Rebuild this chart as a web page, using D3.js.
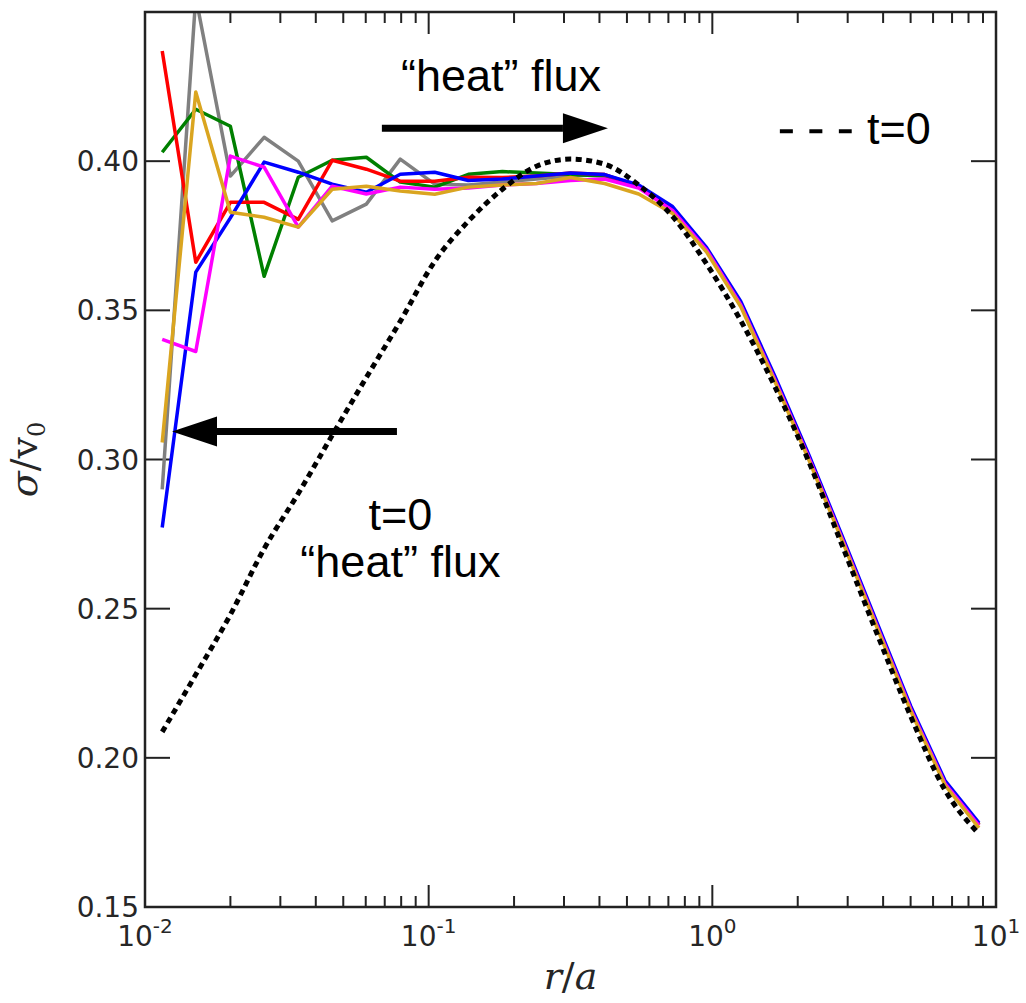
<!DOCTYPE html>
<html>
<head>
<meta charset="utf-8">
<script src="https://cdn.jsdelivr.net/npm/d3@7"></script>
<style>
  body { margin: 0; background: #fff; }
  .tick-label { font-family: "DejaVu Sans", sans-serif; font-size: 28px; fill: #262626; }
  .note { font-family: "Liberation Sans", Arial, sans-serif; font-size: 45px; fill: #000; }
  .axis-title { font-family: "DejaVu Serif", serif; font-size: 38px; fill: #262626; }
</style>
</head>
<body>
<div id="chart"></div>
<script>
// radius bins r/a
var rValues = [0.0115, 0.0151, 0.0200, 0.0263, 0.0347, 0.0457, 0.0603, 0.0794, 0.105, 0.138,
  0.182, 0.240, 0.316, 0.417, 0.550, 0.724, 0.955, 1.26, 1.66, 2.19, 2.88, 3.80, 5.01, 6.61, 8.71]

// sigma / v0 for each run
var sigmaGray = [0.290, 0.455, 0.395, 0.408, 0.400, 0.380, 0.3856, 0.4007, 0.3923, 0.392, 0.393, 0.394, 0.395,
  0.3955, 0.3915, 0.3845, 0.3705, 0.352, 0.327, 0.3005, 0.273, 0.2445, 0.2163, 0.1915, 0.1775]
var sigmaGreen = [0.403, 0.4174, 0.4117, 0.3614, 0.3946, 0.4003, 0.4013, 0.393, 0.3913, 0.3956, 0.3965, 0.396, 0.3955,
  0.395, 0.3915, 0.384, 0.3705, 0.352, 0.327, 0.3007, 0.2732, 0.2447, 0.2165, 0.1918, 0.1777]
var sigmaRed = [0.4369, 0.3661, 0.3862, 0.3862, 0.3805, 0.4003, 0.3973, 0.3933, 0.3933, 0.3946, 0.3945, 0.395, 0.396,
  0.3955, 0.3915, 0.384, 0.3705, 0.352, 0.327, 0.3007, 0.2732, 0.2446, 0.2164, 0.1916, 0.1775]
var sigmaBlue = [0.2772, 0.3628, 0.381, 0.3997, 0.3963, 0.3923, 0.3896, 0.3956, 0.3963, 0.3935, 0.394, 0.395, 0.396,
  0.3955, 0.392, 0.3848, 0.371, 0.353, 0.328, 0.3015, 0.274, 0.2455, 0.2172, 0.1924, 0.1782]
var sigmaMagenta = [0.3403, 0.3362, 0.4017, 0.398, 0.3779, 0.3916, 0.389, 0.3913, 0.3906, 0.391, 0.392, 0.3925, 0.3935,
  0.394, 0.391, 0.3835, 0.3702, 0.3518, 0.3268, 0.3005, 0.273, 0.2444, 0.2162, 0.1914, 0.1773]
var sigmaOrange = [0.3057, 0.4232, 0.3829, 0.3812, 0.3779, 0.3906, 0.3916, 0.390, 0.3889, 0.3913, 0.392, 0.3925, 0.3945,
  0.3925, 0.389, 0.3825, 0.3695, 0.3512, 0.3262, 0.2998, 0.2724, 0.2438, 0.2156, 0.1908, 0.1765]

// t=0 profile
var sigmaInitial = [0.2087, 0.2279, 0.248, 0.2701, 0.2886, 0.3081, 0.3275, 0.3463, 0.3664, 0.3799, 0.3906, 0.3983, 0.4007,
  0.399, 0.392, 0.3815, 0.3655, 0.3465, 0.3245, 0.2992, 0.2708, 0.2418, 0.2138, 0.1892, 0.1745]

var seriesNames = ["gray", "green", "red", "blue", "magenta", "orange"]
var seriesColors = ["#808080", "#008000", "#ff0000", "#0000ff", "#ff00ff", "#daa520"]
var seriesValues = [sigmaGray, sigmaGreen, sigmaRed, sigmaBlue, sigmaMagenta, sigmaOrange]

var yTicks = [0.15, 0.20, 0.25, 0.30, 0.35, 0.40, 0.45]
var xMajorTicks = [0.01, 0.1, 1, 10]
var xExponents = ["-2", "-1", "0", "1"]

ProfilePlot = function (_parentElement) {
  this.parentElement = _parentElement
  this.initVis()
}

ProfilePlot.prototype.initVis = function () {
  var vis = this

  vis.margin = { top: 12, right: 30, bottom: 96, left: 145 }
  vis.width = 1026 - vis.margin.left - vis.margin.right
  vis.height = 1003 - vis.margin.top - vis.margin.bottom

  vis.svg = d3
    .select("#" + vis.parentElement)
    .append("svg")
    .attr("width", 1026)
    .attr("height", 1003)
    .append("g")
    .attr("transform", "translate(" + vis.margin.left + "," + vis.margin.top + ")")

  vis.x = d3.scaleLog().domain([0.01, 10]).range([0, vis.width])
  vis.y = d3.scaleLinear().domain([0.15, 0.45]).range([vis.height, 0])

  vis.svg
    .append("clipPath")
    .attr("id", "plot-clip")
    .append("rect")
    .attr("width", vis.width)
    .attr("height", vis.height)

  vis.wrangleData()
}

ProfilePlot.prototype.wrangleData = function () {
  var vis = this

  vis.displayData = seriesNames.map((name, i) => ({
    name: name,
    color: seriesColors[i],
    values: rValues.map((r, j) => ({ r: r, s: seriesValues[i][j] })),
  }))
  vis.initialData = rValues.map((r, j) => ({ r: r, s: sigmaInitial[j] }))

  vis.updateVis()
}

ProfilePlot.prototype.updateVis = function () {
  var vis = this
  var x = vis.x
  var y = vis.y

  // minor ticks of the log axis
  var minorTicks = x.ticks().filter((t) => xMajorTicks.indexOf(t) < 0)

  var ticks = vis.svg.append("g").attr("stroke", "#222").attr("stroke-width", 2)

  xMajorTicks.forEach((t) => {
    ticks.append("line").attr("x1", x(t)).attr("x2", x(t)).attr("y1", vis.height).attr("y2", vis.height - 22)
    ticks.append("line").attr("x1", x(t)).attr("x2", x(t)).attr("y1", 0).attr("y2", 22)
  })
  minorTicks.forEach((t) => {
    ticks.append("line").attr("x1", x(t)).attr("x2", x(t)).attr("y1", vis.height).attr("y2", vis.height - 11)
    ticks.append("line").attr("x1", x(t)).attr("x2", x(t)).attr("y1", 0).attr("y2", 11)
  })
  yTicks.forEach((t) => {
    ticks.append("line").attr("x1", 0).attr("x2", 25).attr("y1", y(t)).attr("y2", y(t))
    ticks.append("line").attr("x1", vis.width).attr("x2", vis.width - 25).attr("y1", y(t)).attr("y2", y(t))
  })

  // tick labels
  vis.svg
    .selectAll(".y-label")
    .data(yTicks.slice(0, 6))
    .enter()
    .append("text")
    .attr("class", "tick-label")
    .attr("x", -6)
    .attr("y", (d) => y(d))
    .attr("dy", "0.36em")
    .attr("text-anchor", "end")
    .text((d) => d3.format(".2f")(d))

  var xl = vis.svg
    .selectAll(".x-label")
    .data(xMajorTicks)
    .enter()
    .append("text")
    .attr("class", "tick-label")
    .attr("x", (d) => x(d))
    .attr("y", vis.height + 39)
    .attr("text-anchor", "middle")
  xl.append("tspan").text("10")
  xl.append("tspan")
    .attr("dy", -13)
    .attr("font-size", 20)
    .text((d, i) => xExponents[i])

  // series
  var line = d3
    .line()
    .x((d) => x(d.r))
    .y((d) => y(d.s))

  var plot = vis.svg.append("g").attr("clip-path", "url(#plot-clip)")

  plot
    .selectAll(".run")
    .data(vis.displayData)
    .enter()
    .append("path")
    .attr("class", "run")
    .attr("fill", "none")
    .attr("stroke", (d) => d.color)
    .attr("stroke-width", 3.5)
    .attr("stroke-linejoin", "round")
    .attr("d", (d) => line(d.values))

  plot
    .append("path")
    .attr("fill", "none")
    .attr("stroke", "#000")
    .attr("stroke-width", 5)
    .attr("stroke-dasharray", "6,4.5")
    .attr("d", line.curve(d3.curveMonotoneX)(vis.initialData))

  // frame
  vis.svg
    .append("rect")
    .attr("width", vis.width)
    .attr("height", vis.height)
    .attr("fill", "none")
    .attr("stroke", "#222")
    .attr("stroke-width", 2.5)

  // annotations (data coordinates)
  var notes = vis.svg.append("g")

  var arrow = function (r0, r1, s, dir) {
    var x0 = x(r0), x1 = x(r1), yy = y(s)
    var base = x1 - dir * 45
    notes.append("line").attr("x1", x0).attr("x2", base).attr("y1", yy).attr("y2", yy)
      .attr("stroke", "#000").attr("stroke-width", 7)
    notes.append("path")
      .attr("d", "M" + x1 + "," + yy + "L" + base + "," + (yy - 15) + "L" + base + "," + (yy + 15) + "Z")
      .attr("fill", "#000")
  }
  arrow(0.0684, 0.4285, 0.411, 1)
  arrow(0.0773, 0.01245, 0.3094, -1)

  notes.append("text").attr("class", "note").attr("x", x(0.18)).attr("y", y(0.4235))
    .attr("text-anchor", "middle").text("\u201cheat\u201d flux")
  notes.append("text").attr("class", "note").attr("x", x(0.0795)).attr("y", y(0.2765))
    .attr("text-anchor", "middle").text("t=0")
  notes.append("text").attr("class", "note").attr("x", x(0.0795)).attr("y", y(0.2605))
    .attr("text-anchor", "middle").text("\u201cheat\u201d flux")

  // t=0 legend entry
  notes.append("line").attr("x1", x(1.73)).attr("x2", x(3.1)).attr("y1", y(0.41)).attr("y2", y(0.41))
    .attr("stroke", "#000").attr("stroke-width", 4).attr("stroke-dasharray", "13,16.5")
  notes.append("text").attr("class", "note").attr("x", x(3.51)).attr("y", y(0.4057)).text("t=0")

  // axis titles
  vis.svg
    .append("text")
    .attr("class", "axis-title")
    .attr("x", vis.width / 2)
    .attr("y", vis.height + 82)
    .attr("text-anchor", "middle")
    .html('<tspan font-style="italic">r</tspan>/<tspan font-style="italic">a</tspan>')

  vis.svg
    .append("text")
    .attr("class", "axis-title")
    .attr("transform", "translate(-108," + vis.height / 2 + ") rotate(-90)")
    .attr("text-anchor", "middle")
    .html('<tspan font-style="italic">\u03c3</tspan>/v<tspan font-size="24" dy="8">0</tspan>')
}

new ProfilePlot("chart")
</script>
</body>
</html>
